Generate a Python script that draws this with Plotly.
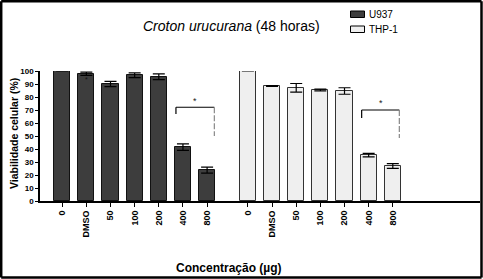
import plotly.graph_objects as go

# ---- data ----
concentrations = ["0", "DMSO", "50", "100", "200", "400", "800"]
u937_pos = [0, 1, 2, 3, 4, 5, 6]
thp1_pos = [7.69, 8.69, 9.69, 10.69, 11.69, 12.69, 13.69]
u937_values = [100, 97.9, 90.0, 96.7, 95.6, 41.5, 23.8]
u937_errors = [0, 1.2, 2.0, 1.8, 2.2, 2.5, 2.3]
thp1_values = [100, 88.4, 87.1, 85.4, 84.6, 35.3, 26.9]
thp1_errors = [0, 0.3, 3.3, 0.7, 2.5, 1.3, 1.8]
y_ticks = [0, 10, 20, 30, 40, 50, 60, 70, 80, 90, 100]

# significance brackets: (x_left, x_right, y_top, y_left_end, y_right_end, star_x, star_y)
brackets = [
    (4.71, 6.30, 72.1, 66.9, 50.0, 5.5, 77.0),
    (12.40, 13.96, 70.0, 63.8, 48.5, 13.19, 75.2),
]

W, H = 483, 279
ML, MR, MT, MB = 40, 3, 71, 78
PW = W - ML - MR
PH = H - MT - MB

def px(xp):
    return (xp - ML) / PW

def py(yp):
    return (H - MB - yp) / PH

FONT = "Arial, Liberation Sans, sans-serif"
DARK = "#3d3d3d"
LIGHT = "#efefef"

fig = go.Figure()
fig.add_trace(go.Bar(
    x=u937_pos, y=u937_values, width=0.67, name="U937",
    marker=dict(color=DARK, line=dict(color="#111111", width=1)),
    error_y=dict(type="data", array=u937_errors, color="#000000", thickness=1.2, width=6),
    showlegend=False,
))
fig.add_trace(go.Bar(
    x=thp1_pos, y=thp1_values, width=0.67, name="THP-1",
    marker=dict(color=LIGHT, line=dict(color="#333333", width=1)),
    error_y=dict(type="data", array=thp1_errors, color="#000000", thickness=1.2, width=6),
    showlegend=False,
))

shapes = []
annotations = []
for (xl, xr, yt, yle, yre, sx, sy) in brackets:
    shapes.append(dict(type="line", xref="x", yref="y", x0=xl, x1=xr, y0=yt, y1=yt,
                       line=dict(color="#000000", width=1.2)))
    shapes.append(dict(type="line", xref="x", yref="y", x0=xl, x1=xl, y0=yt, y1=yle,
                       line=dict(color="#000000", width=1.2)))
    shapes.append(dict(type="line", xref="x", yref="y", x0=xr, x1=xr, y0=yt, y1=yre,
                       line=dict(color="#888888", width=1.2, dash="6px,2px")))
    annotations.append(dict(x=sx, y=sy, xref="x", yref="y", text="*", showarrow=False,
                            font=dict(family=FONT, size=9, color="#222222")))

# small star on DMSO bar
annotations.append(dict(x=u937_pos[1], y=93.5, xref="x", yref="y", text="*", showarrow=False,
                        font=dict(family=FONT, size=7, color="#111111")))

# border (four lines)
bx0, bx1, by0, by1 = px(1.2), px(481.5), py(277.5), py(1.2)
for (a, b, c, d) in [(bx0, bx1, by1, by1), (bx0, bx1, by0, by0),
                     (bx0, bx0, by0, by1), (bx1, bx1, by0, by1)]:
    shapes.append(dict(type="line", xref="paper", yref="paper", x0=a, x1=b, y0=c, y1=d,
                       line=dict(color="#000000", width=2.5)))

# legend
shapes.append(dict(type="rect", xref="paper", yref="paper",
                   x0=px(350.5), x1=px(364.5), y0=py(17.5), y1=py(11),
                   fillcolor=DARK, line=dict(color="#000000", width=1)))
shapes.append(dict(type="rect", xref="paper", yref="paper",
                   x0=px(350.5), x1=px(364.5), y0=py(32.5), y1=py(26),
                   fillcolor=LIGHT, line=dict(color="#000000", width=1)))
annotations.append(dict(x=px(367), y=py(14), xref="paper", yref="paper", text="U937",
                        showarrow=False, xanchor="left", yanchor="middle",
                        font=dict(family=FONT, size=10, color="#000000")))
annotations.append(dict(x=px(367), y=py(29.5), xref="paper", yref="paper", text="THP-1",
                        showarrow=False, xanchor="left", yanchor="middle",
                        font=dict(family=FONT, size=10, color="#000000")))

# title
annotations.append(dict(x=px(231), y=py(26), xref="paper", yref="paper",
                        text="<i>Croton urucurana</i> (48 horas)", showarrow=False,
                        xanchor="center", yanchor="middle",
                        font=dict(family=FONT, size=14, color="#000000")))
# y title
annotations.append(dict(x=px(14), y=py(134), xref="paper", yref="paper",
                        text="Viabilidade celular (%)", showarrow=False, textangle=-90,
                        xanchor="center", yanchor="middle",
                        font=dict(family=FONT, size=10.5, color="#000000", weight="bold")))
# x title
annotations.append(dict(x=px(229), y=py(268), xref="paper", yref="paper",
                        text="Concentração (µg)", showarrow=False,
                        xanchor="center", yanchor="middle",
                        font=dict(family=FONT, size=12, color="#000000", weight="bold")))

xmin = -22.2 / 24.15
xmax = xmin + PW / 24.15

fig.update_layout(
    width=W, height=H,
    margin=dict(l=ML, r=MR, t=MT, b=MB, pad=0),
    paper_bgcolor="#ffffff", plot_bgcolor="#ffffff",
    bargap=0, barmode="overlay",
    shapes=shapes, annotations=annotations,
    xaxis=dict(range=[xmin, xmax], tickvals=u937_pos + thp1_pos,
               ticktext=concentrations + concentrations, tickangle=-90,
               ticks="outside", ticklen=4, tickwidth=1, tickcolor="#000000",
               showline=True, linecolor="#000000", linewidth=2,
               showgrid=False, zeroline=False,
               tickfont=dict(family=FONT, size=9, color="#000000", weight="bold")),
    yaxis=dict(range=[0, 100], tickvals=y_ticks, ticks="outside", ticklen=3,
               tickwidth=1, tickcolor="#000000",
               showline=True, linecolor="#000000", linewidth=1.5,
               showgrid=False, zeroline=False,
               tickfont=dict(family=FONT, size=8, color="#000000", weight="bold")),
)

fig.write_html("out.html", config={"displayModeBar": False},
               post_script="document.body.style.margin='0';document.body.style.padding='0';")
